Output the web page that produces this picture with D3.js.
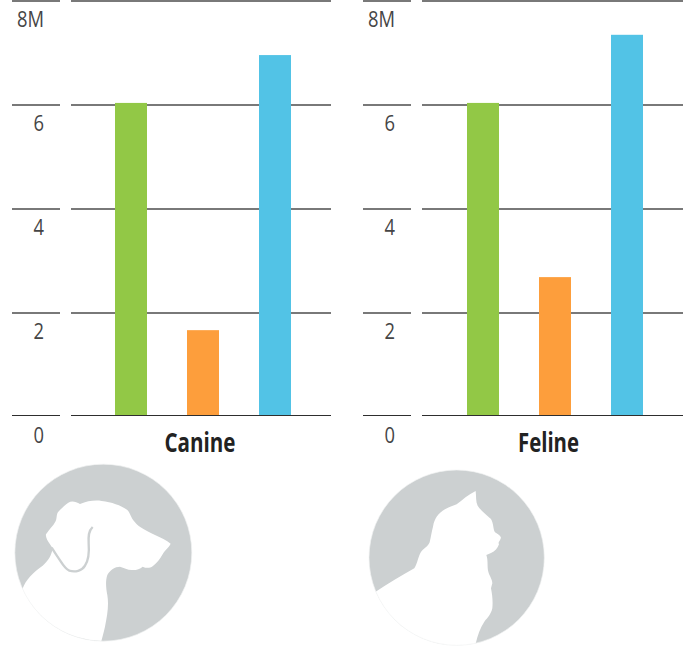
<!DOCTYPE html>
<html><head><meta charset="utf-8">
<script src="https://cdn.jsdelivr.net/npm/d3@7"></script>
<style>html,body{margin:0;padding:0;background:#fff}svg{display:block}</style>
</head><body>
<svg id="c" width="689" height="648"></svg>
<script>
const panels = ["Canine", "Feline"];
const groups = ["a", "b", "c"];
const canineValues = [6.04, 1.67, 6.96];
const felineValues = [6.04, 2.69, 7.35];
const groupColors = ["#92c846", "#fd9e3c", "#52c3e6"];
const tickValues = [0, 2, 4, 6, 8];
const tickLabels = ["0", "2", "4", "6", "8M"];
const panelValues = [canineValues, felineValues];

const dogShape = "M67,403C78,372 100,352 128,332C145,318 155,300 158,280L150,268C143,258 136,246 138,238C148,222 160,212 166,200C172,190 168,178 175,170C185,160 195,150 205,143C215,137 228,140 240,147C262,138 285,135 305,138C335,142 362,150 382,165C392,175 392,188 405,202C418,218 440,228 465,240C482,248 500,256 512,266C505,280 492,288 488,298C480,312 470,325 458,334C450,340 438,340 428,335C420,342 408,346 395,345C382,345 372,338 360,335C345,335 330,345 322,360C316,378 318,400 322,420C327,450 322,480 315,515C311,532 307,548 304,558A266,266 0 0 1 67,403Z";
const dogEar = "M278,216C265,228 265,245 266,265C268,290 268,312 255,332C246,348 225,352 208,347C192,340 185,322 172,304C165,294 160,286 155,278";
const catShape = "M62,410C100,385 140,362 178,340C188,325 190,300 200,288C210,278 218,275 224,262C228,245 230,230 234,215C238,190 250,175 270,163C285,155 295,152 305,148C322,135 340,118 362,108C364,125 362,140 368,152C378,168 395,180 408,192C416,205 414,222 420,232C428,238 436,240 438,248C435,258 428,262 432,268C428,280 420,290 408,294L394,300C400,315 396,335 400,350C403,362 412,372 412,385L408,400C412,420 414,440 412,460C408,478 398,488 388,500C376,518 368,540 362,566A263,263 0 0 1 62,410Z";

const svg = d3.select("#c");
const y = d3.scaleLinear().domain([0, 8]).range([417, 1]);

panels.forEach((name, p) => {
  const dx = p * 351;
  const dxBar = p * 352;
  const g = svg.append("g");
  const x = d3.scaleBand().domain(groups).range([95 + dxBar, 311 + dxBar])
    .paddingInner(40 / 72).paddingOuter(20 / 72);

  g.selectAll("rect").data(panelValues[p]).join("rect")
    .attr("x", (d, i) => x(groups[i]))
    .attr("width", x.bandwidth())
    .attr("y", d => y(d))
    .attr("height", d => y(0) - y(d) - 2)
    .attr("fill", (d, i) => groupColors[i]);

  tickValues.forEach((t, i) => {
    [[12 + dx, 60 + dx], [71 + dx, 331 + dx + p]].forEach(([a, b]) => {
      const ly = t === 0 ? y(t) - 1.5 : y(t);
      g.insert("line", t === 0 ? null : "rect").attr("x1", a).attr("x2", b)
        .attr("y1", ly).attr("y2", ly)
        .attr("stroke", t === 0 ? "#2e2e2e" : "#4c4c4c")
        .attr("stroke-width", t === 0 ? 1 : 1.6);
    });
    g.append("text").attr("x", 44 + dx).attr("y", y(t) + 25.5)
      .attr("text-anchor", "end")
      .attr("font-family", "'Open Sans', sans-serif")
      .attr("font-size", 21).attr("fill", "#454545")
      .attr("textLength", tickLabels[i].length > 1 ? 27 : 10.5)
      .attr("lengthAdjust", "spacingAndGlyphs")
      .text(tickLabels[i]);
  });

  g.append("text").attr("x", 200 + p * 348.5).attr("y", 452)
    .attr("text-anchor", "middle")
    .attr("font-family", "'Open Sans', sans-serif")
    .attr("font-weight", 700).attr("font-size", 26).attr("fill", "#222")
    .attr("textLength", p ? 61 : 71).attr("lengthAdjust", "spacingAndGlyphs")
    .text(name);
});

// Decorative silhouettes
const dog = svg.append("g").attr("transform", "translate(0,455) scale(0.3333)");
dog.append("circle").attr("cx", 310).attr("cy", 293).attr("r", 265.5).attr("fill", "#ccd0d1");
dog.append("path").attr("d", dogShape).attr("fill", "#fff");
dog.append("circle").attr("cx", 310).attr("cy", 293).attr("r", 265.5).attr("fill", "none").attr("stroke", "#f2f3f3").attr("stroke-width", 2);
dog.append("path").attr("d", dogEar).attr("fill", "none").attr("stroke", "#ccd0d1").attr("stroke-width", 7);

const cat = svg.append("g").attr("transform", "translate(355,455) scale(0.3333)");
cat.append("circle").attr("cx", 305).attr("cy", 308).attr("r", 263).attr("fill", "#ccd0d1");
cat.append("path").attr("d", catShape).attr("fill", "#fff");
cat.append("circle").attr("cx", 305).attr("cy", 308).attr("r", 263).attr("fill", "none").attr("stroke", "#f2f3f3").attr("stroke-width", 2);
</script>
</body></html>
